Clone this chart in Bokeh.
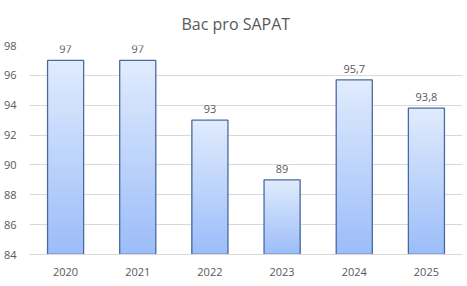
from bokeh.plotting import figure
from bokeh.models import ColumnDataSource, FixedTicker, Title
from bokeh.embed import file_html
from bokeh.resources import INLINE

years = ["2020", "2021", "2022", "2023", "2024", "2025"]
values = [97, 97, 93, 89, 95.7, 93.8]
labels = ["97", "97", "93", "89", "95,7", "93,8"]
y_min, y_max = 84, 98
y_ticks = [84, 86, 88, 90, 92, 94, 96, 98]

TOP = (224, 235, 253)
BOTTOM = (156, 189, 249)
N = 60

p = figure(x_range=years, y_range=(y_min, y_max), width=467, height=286,
           output_backend="svg", toolbar_location=None,
           min_border_left=5, min_border_right=5, min_border_top=10, min_border_bottom=32)
p.add_layout(Title(text="Bac pro SAPAT", align="left", text_font="Open Sans",
                   text_font_size="16px", text_color="#595959", text_font_style="normal",
                   standoff=21, offset=152), "above")

# gradient: overlapping strips from each level down to the base (no seams)
xs, bots, tops, cols = [], [], [], []
for yr, v in zip(years, values):
    h = (v - y_min) / N
    for i in range(N):
        t = i / (N - 1)
        c = tuple(int(round(TOP[k] + (BOTTOM[k] - TOP[k]) * t)) for k in range(3))
        xs.append(yr)
        tops.append(v - h * i)
        bots.append(y_min)
        cols.append("#%02x%02x%02x" % c)
p.vbar(x=xs, top=tops, bottom=bots, width=0.5, fill_color=cols, line_color=None)

src = ColumnDataSource(dict(x=years, top=values, lab=labels))
p.vbar(x="x", top="top", bottom=y_min, width=0.5, source=src, fill_color=None,
       line_color="#4a6a9e", line_width=1.3)
p.text(x="x", y="top", text="lab", source=src, text_align="center", text_baseline="bottom",
       y_offset=-7, text_font_size="11px", text_color="#595959",
       text_font={"value": "Open Sans"})

p.xgrid.grid_line_color = None
p.ygrid.grid_line_color = "#d9d9d9"
p.yaxis.ticker = FixedTicker(ticks=y_ticks)
p.yaxis.axis_line_color = None
p.yaxis.major_tick_line_color = None
p.yaxis.minor_tick_line_color = None
p.yaxis.major_label_text_font_size = "11px"
p.yaxis.major_label_text_color = "#595959"
p.yaxis.major_label_text_font = "Open Sans"
p.yaxis.major_label_standoff = 7
p.xaxis.axis_line_color = "#d9d9d9"
p.xaxis.major_tick_line_color = None
p.xaxis.minor_tick_line_color = None
p.xaxis.major_label_text_font_size = "11px"
p.xaxis.major_label_text_color = "#595959"
p.xaxis.major_label_text_font = "Open Sans"
p.xaxis.major_label_standoff = 7
p.outline_line_color = None
p.x_range.range_padding = 0

open("out.html", "w").write(file_html(p, INLINE))
